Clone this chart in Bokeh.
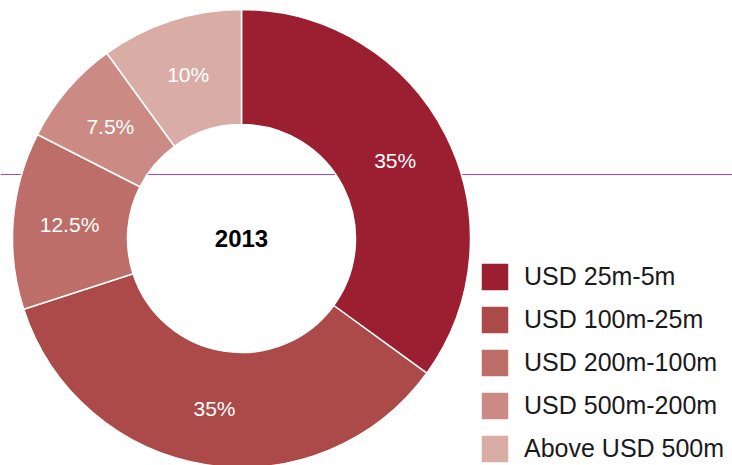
import math
from bokeh.plotting import figure
from bokeh.models import ColumnDataSource, Range1d, Span
from bokeh.core.properties import value
from bokeh.embed import file_html
from bokeh.resources import INLINE

categories = ["USD 25m-5m", "USD 100m-25m", "USD 200m-100m", "USD 500m-200m", "Above USD 500m"]
shares = [35, 35, 12.5, 7.5, 10]
share_labels = ["35%", "35%", "12.5%", "7.5%", "10%"]
colors = ["#9B1E31", "#AB4A48", "#BD6E68", "#CB8A83", "#D9ADA6"]
year = "2013"

W, H = 732, 465
cx, cy = 241, H - 238
r_in, r_out = 114, 229

total = sum(shares)
starts, ends, lx, ly = [], [], [], []
cum = 0.0
for s in shares:
    a0 = math.pi / 2 - 2 * math.pi * cum / total
    a1 = math.pi / 2 - 2 * math.pi * (cum + s) / total
    starts.append(a0)
    ends.append(a1)
    mid = (a0 + a1) / 2
    rm = (r_in + r_out) / 2 + 1
    lx.append(cx + rm * math.cos(mid))
    ly.append(cy + rm * math.sin(mid))
    cum += s

src = ColumnDataSource(dict(cat=categories, start=starts, end=ends, color=colors,
                            x=[cx] * 5, y=[cy] * 5, lx=lx, ly=ly, lab=share_labels))

p = figure(width=W, height=H, output_backend="svg", toolbar_location=None,
           x_range=Range1d(0, W), y_range=Range1d(0, H), min_border=0)
p.axis.visible = False
p.grid.visible = False
p.outline_line_color = None
p.background_fill_color = "white"

p.add_layout(Span(location=H - 174, dimension="width", line_color="#A448B6",
                  line_width=1, level="underlay"))

p.annular_wedge(x="x", y="y", inner_radius=r_in, outer_radius=r_out,
                start_angle="start", end_angle="end", direction="clock",
                fill_color="color", line_color="white", line_width=1.5,
                legend_field="cat", source=src)

p.text(x="lx", y="ly", text="lab", source=src, text_color="white",
       text_font=value("Liberation Sans"), text_font_size="21px",
       text_align="center", text_baseline="middle")

p.text(x=[cx], y=[cy], text=[year], text_color="black",
       text_font=value("Liberation Sans"), text_font_style="bold", text_font_size="24px",
       text_align="center", text_baseline="middle")

lg = p.legend[0]
lg.location = (477, -1)
lg.orientation = "vertical"
lg.glyph_width = 35
lg.glyph_height = 35
lg.label_height = 35
lg.spacing = 8
lg.padding = 0
lg.margin = 0
lg.label_standoff = 12
lg.border_line_color = None
lg.background_fill_alpha = 0
lg.label_text_font = "Liberation Sans"
lg.label_text_font_size = "25px"
lg.label_text_color = "#1a1a1a"
lg.label_text_baseline = "middle"

open("out.html", "w").write(file_html(p, INLINE))
